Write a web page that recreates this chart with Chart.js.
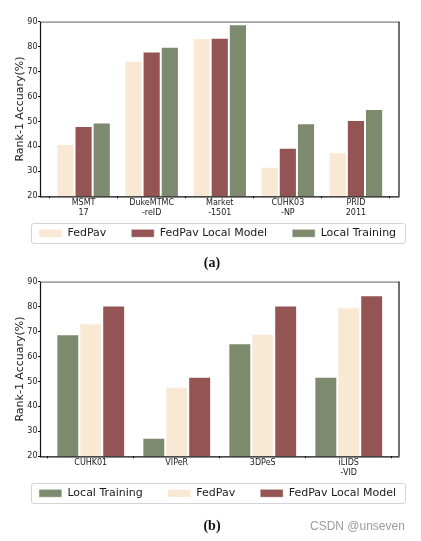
<!DOCTYPE html>
<html>
<head>
<meta charset="utf-8">
<script src="https://cdn.jsdelivr.net/npm/chart.js@4/dist/chart.umd.min.js"></script>
<style>
  html, body { margin:0; padding:0; background:#fff; }
  body { width:421px; height:541px; position:relative; overflow:hidden; font-family:"DejaVu Sans", sans-serif; }
  canvas { position:absolute; left:0; }
  #cA { top:0; }
  #cB { top:260px; }
  .cap { position:absolute; font-family:"Liberation Serif", "DejaVu Serif", serif; font-weight:bold; font-size:14px; color:#111; width:40px; text-align:center; line-height:16px; }
  #capA { left:192px; top:255px; }
  #capB { left:192px; top:518px; }
  #wm { position:absolute; left:310px; top:519px; font-family:"Liberation Sans", Arial, sans-serif; font-size:12px; line-height:15px; color:#9c9c9c; white-space:nowrap; }
</style>
</head>
<body>
<canvas id="cA" width="421" height="265"></canvas>
<canvas id="cB" width="421" height="265"></canvas>
<div class="cap" id="capA">(a)</div>
<div class="cap" id="capB">(b)</div>
<div id="wm">CSDN @unseven</div>
<script>
// ---------- data (a) ----------
const categoriesA = [["MSMT","17"],["DukeMTMC","-reID"],["Market","-1501"],["CUHK03","-NP"],["PRID","2011"]];
const fedPavA      = [41.0, 74.3, 83.5, 31.8, 37.7];
const localModelA  = [48.2, 78.1, 83.6, 39.5, 50.6];
const localTrainA  = [49.6, 80.0, 89.0, 49.3, 55.0];

// ---------- data (b) ----------
const categoriesB = ["CUHK01","VIPeR","3DPeS",["iLIDS","-VID"]];
const localTrainB  = [68.9, 27.4, 65.3, 51.9];
const fedPavB      = [73.3, 47.9, 69.2, 79.8];
const localModelB  = [80.5, 51.9, 80.5, 84.6];

const yTicks = [20, 30, 40, 50, 60, 70, 80, 90];
const yTitle = "Rank-1 Accuary(%)";

const COL = {
  fedPav: "#F9E8D4",
  localModel: "#955454",
  localTrain: "#7D8A6E"
};

const TXT = "#1a1a1a";
const FONT = "'DejaVu Sans', sans-serif";
const LEG_PAD = 25;

const framePlugin = {
  id: "frame",
  afterLayout(chart) {
    const lg = chart.legend;
    if (!lg) return;
    const h = lg.bottom - lg.top;
    lg.top = chart.chartArea.bottom + (31.5 - LEG_PAD);
    lg.bottom = lg.top + h;
    lg.left += 7; lg.right += 7;
  },
  afterDraw(chart) {
    const ctx = chart.ctx;
    const {left, right, top, bottom} = chart.chartArea;
    ctx.save();
    ctx.lineWidth = 1.2;
    ctx.strokeStyle = "#808080";
    ctx.beginPath(); ctx.moveTo(left, top + 0.5); ctx.lineTo(right, top + 0.5); ctx.stroke();
    ctx.strokeStyle = "#111";
    ctx.beginPath(); ctx.moveTo(right - 0.5, top); ctx.lineTo(right - 0.5, bottom); ctx.stroke();
    ctx.beginPath(); ctx.moveTo(left + 0.5, top); ctx.lineTo(left + 0.5, bottom + 0.5); ctx.lineTo(right, bottom + 0.5); ctx.stroke();
    // legend frame
    const hb = chart.legend && chart.legend.legendHitBoxes;
    if (hb && hb.length) {
      const first = hb[0], last = hb[hb.length - 1];
      const x0 = first.left - 8, x1 = last.left + last.width + 9;
      const cy = first.top + first.height / 2;
      const y0 = cy - 10, h = 20, r = 2.5;
      ctx.lineWidth = 1;
      ctx.strokeStyle = "#d4d4d4";
      ctx.beginPath();
      ctx.roundRect(Math.round(x0) + 0.5, Math.round(y0) + 0.5, Math.round(x1 - x0), h, r);
      ctx.stroke();
    }
    ctx.restore();
  }
};

function makeDataset(label, values, color) {
  return {
    label: label,
    data: values.map((v, i) => ({x: i, y: v})),
    backgroundColor: color,
    borderColor: "rgba(255,255,255,0.55)",
    borderWidth: 1,
    categoryPercentage: 0.8,
    barPercentage: 1.0
  };
}

function makeChart(id, cats, datasets, xmin, xmax) {
  return new Chart(document.getElementById(id), {
    type: "bar",
    data: { datasets: datasets },
    plugins: [framePlugin],
    options: {
      responsive: false,
      animation: false,
      devicePixelRatio: 1,
      layout: { padding: { left: 0, right: 0, top: 21.7, bottom: 0.7 } },
      plugins: {
        tooltip: { enabled: false },
        legend: {
          position: "bottom",
          align: "center",
          labels: {
            boxWidth: 23,
            boxHeight: 8,
            padding: LEG_PAD,
            color: TXT,
            font: { family: FONT, size: 11 }
          }
        }
      },
      scales: {
        x: {
          type: "linear",
          min: xmin,
          max: xmax,
          offset: false,
          afterFit(scale) { scale.height = 22; },
          afterBuildTicks(scale) { scale.ticks = cats.map((c, i) => ({value: i})); },
          ticks: {
            stepSize: 1,
            includeBounds: false,
            autoSkip: false,
            maxRotation: 0,
            padding: 0.5,
            color: TXT,
            font: { family: FONT, size: 8, lineHeight: 1.15 },
            callback: (v) => cats[v]
          },
          grid: { drawOnChartArea: false, drawTicks: true, tickLength: 2, color: "#111", lineWidth: 1 },
          border: { display: false }
        },
        y: {
          min: yTicks[0],
          max: yTicks[yTicks.length - 1],
          afterFit(scale) { scale.width = 40; },
          afterBuildTicks(scale) { scale.ticks = yTicks.map(v => ({value: v})); },
          ticks: {
            stepSize: 10,
            padding: 0.5,
            color: TXT,
            font: { family: FONT, size: 8 }
          },
          grid: { drawOnChartArea: false, drawTicks: true, tickLength: 2, color: "#111", lineWidth: 1 },
          border: { display: false },
          title: {
            display: true,
            text: yTitle,
            color: TXT,
            font: { family: FONT, size: 11 },
            padding: { top: 14, bottom: 0 }
          }
        },
        yRight: {
          type: "linear",
          position: "right",
          display: true,
          min: 0,
          max: 1,
          afterFit(scale) { scale.width = 21.5; },
          ticks: { display: false },
          grid: { display: false },
          border: { display: false }
        }
      }
    }
  });
}

makeChart("cA", categoriesA, [
  makeDataset("FedPav", fedPavA, COL.fedPav),
  makeDataset("FedPav Local Model", localModelA, COL.localModel),
  makeDataset("Local Training", localTrainA, COL.localTrain)
], -0.64, 4.64);

makeChart("cB", categoriesB, [
  makeDataset("Local Training", localTrainB, COL.localTrain),
  makeDataset("FedPav", fedPavB, COL.fedPav),
  makeDataset("FedPav Local Model", localModelB, COL.localModel)
], -0.59, 3.59);
</script>
</body>
</html>
